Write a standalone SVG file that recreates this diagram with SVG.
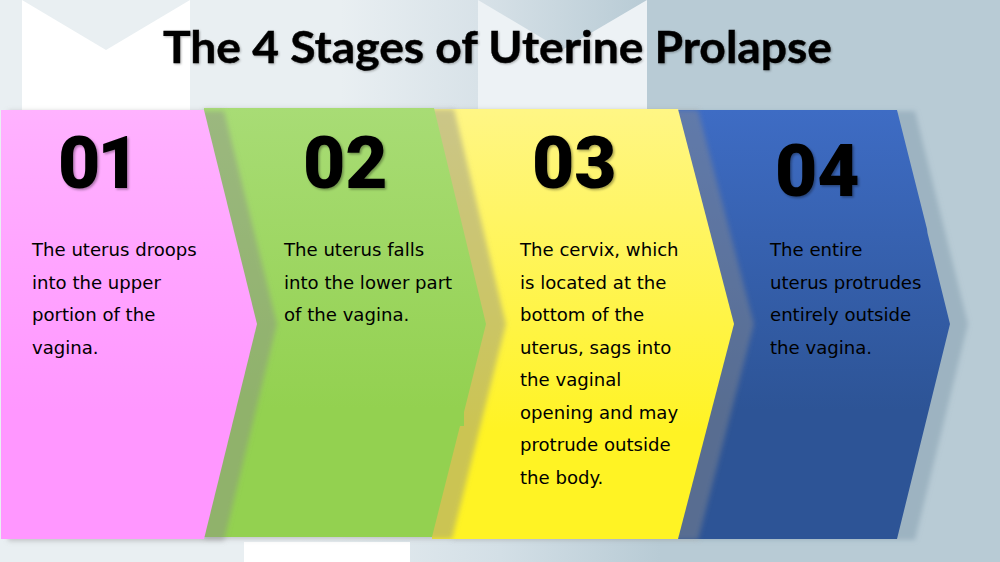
<svg xmlns="http://www.w3.org/2000/svg" width="1000" height="562" viewBox="0 0 1000 562">
<style>
.body{font-family:"DejaVu Sans",sans-serif;font-size:18.1px;fill:#000}
.num{font-family:Roboto,"Liberation Sans",sans-serif;font-weight:900;font-size:73px;fill:#000;filter:url(#numShadow)}
.title{font-family:Lato,"Open Sans",sans-serif;font-weight:700;font-size:44px;fill:#000;stroke:#000;stroke-width:.4;filter:url(#titleShadow)}
.shadow{fill:#8c8c8c;fill-opacity:.45;filter:url(#blur)}
</style>
<defs>
<linearGradient id="bgTop" x1="0" x2="1000" y1="0" y2="0" gradientUnits="userSpaceOnUse"><stop offset=".34" stop-color="#e9eff2"/><stop offset=".478" stop-color="#d8e2e8"/><stop offset=".647" stop-color="#b8cbd5"/></linearGradient>
<linearGradient id="bgBottom" x1="0" x2="1000" y1="0" y2="0" gradientUnits="userSpaceOnUse"><stop offset=".3" stop-color="#e9eff2"/><stop offset=".5" stop-color="#d3dfe6"/><stop offset=".66" stop-color="#b8cbd5"/></linearGradient>
<linearGradient id="pink" x1="0" x2="0" y1="110" y2="539" gradientUnits="userSpaceOnUse"><stop offset="0" stop-color="#ffb2ff"/><stop offset=".7" stop-color="#ff97ff"/></linearGradient>
<linearGradient id="green" x1="0" x2="0" y1="108" y2="537" gradientUnits="userSpaceOnUse"><stop offset="0" stop-color="#a8dc75"/><stop offset=".7" stop-color="#93d150"/></linearGradient>
<linearGradient id="yellow" x1="0" x2="0" y1="109" y2="539" gradientUnits="userSpaceOnUse"><stop offset="0" stop-color="#fff685"/><stop offset=".75" stop-color="#fff324"/></linearGradient>
<linearGradient id="blue" x1="0" x2="0" y1="110" y2="539" gradientUnits="userSpaceOnUse"><stop offset="0" stop-color="#3e6cc4"/><stop offset=".7" stop-color="#2d5496"/></linearGradient>
<filter id="blur" x="-10%" y="-5%" width="120%" height="110%"><feGaussianBlur stdDeviation="2.5"/></filter>
<filter id="numShadow" x="-10%" y="-10%" width="125%" height="125%"><feDropShadow dx="1.5" dy="1.5" stdDeviation="1.2" flood-color="#000" flood-opacity=".35"/></filter>
<filter id="titleShadow" x="-5%" y="-10%" width="110%" height="130%"><feDropShadow dx="1" dy="1" stdDeviation="1" flood-color="#000" flood-opacity=".3"/></filter>
</defs>

<g id="background">
<rect width="1000" height="562" fill="url(#bgTop)"/>
<rect y="540" width="1000" height="22" fill="url(#bgBottom)"/>
<polygon points="22,0 106,50 190,0 190,120 22,120" fill="#fff"/>
<polygon points="478,0 562,50 647,0 647,120 478,120" fill="#edf2f5"/>
<rect x="244" y="542" width="166" height="20" fill="#fff"/>
</g>

<g id="title"><text class="title" x="163" y="63" textLength="669" lengthAdjust="spacingAndGlyphs">The 4 Stages of Uterine Prolapse</text></g>

<g id="stage-04">
<polygon class="shadow" points="698,111 915,111 968,324 915,540 698,540" style="fill:#7d96a8"/>
<polygon points="678,110 897,110 927,229 927.5,233 950,324 897,539 678,539" fill="url(#blue)"/>
<text class="num" x="775" y="196">04</text>
<text class="body"><tspan x="770" y="256">The entire</tspan><tspan x="770" y="289">uterus protrudes</tspan><tspan x="770" y="321">entirely outside</tspan><tspan x="770" y="354">the vagina.</tspan></text>
</g>

<g id="stage-03">
<polygon class="shadow" points="452,110 698,110 754,324 698,540 452,540"/>
<polygon points="432,109 678,109 734,324 678,539 432,539" fill="url(#yellow)"/>
<text class="num" x="532" y="188">03</text>
<text class="body"><tspan x="520" y="256">The cervix, which</tspan><tspan x="520" y="289">is located at the</tspan><tspan x="520" y="321">bottom of the</tspan><tspan x="520" y="354">uterus, sags into</tspan><tspan x="520" y="386">the vaginal</tspan><tspan x="520" y="419">opening and may</tspan><tspan x="520" y="451">protrude outside</tspan><tspan x="520" y="484">the body.</tspan></text>
</g>

<g id="stage-02">
<polygon class="shadow" points="204,109 454,109 506,324 452,539 204,539"/>
<polygon points="204,108 434,108 486,324 464,412 464,426 460,426 432,537 204,537" fill="url(#green)"/>
<text class="num" x="303" y="188">02</text>
<text class="body"><tspan x="284" y="256">The uterus falls</tspan><tspan x="284" y="289">into the lower part</tspan><tspan x="284" y="321">of the vagina.</tspan></text>
</g>

<g id="stage-01">
<polygon class="shadow" points="8,111 224,111 277,324 224,541 8,541"/>
<polygon points="1,110 204,110 257,324 204,539 1,539" fill="url(#pink)"/>
<text class="num" x="58" y="188" letter-spacing="-3">01</text>
<text class="body"><tspan x="32" y="256">The uterus droops</tspan><tspan x="32" y="289">into the upper</tspan><tspan x="32" y="321">portion of the</tspan><tspan x="32" y="354">vagina.</tspan></text>
</g>
</svg>
